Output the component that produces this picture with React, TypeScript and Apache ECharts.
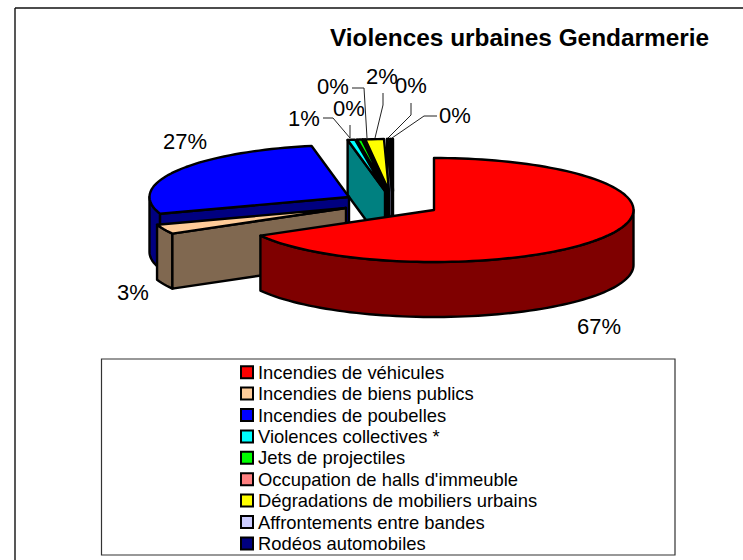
import React, { useEffect, useRef } from "react";
import * as echarts from "echarts";

const title = "Violences urbaines Gendarmerie";
const categories = [
  "Incendies de véhicules",
  "Incendies de biens publics",
  "Incendies de poubelles",
  "Violences collectives *",
  "Jets de projectiles",
  "Occupation de halls d'immeuble",
  "Dégradations de mobiliers urbains",
  "Affrontements entre bandes",
  "Rodéos automobiles",
];
const values = [66.8, 3.0, 27.2, 0.6, 0.4, 0.1, 1.5, 0.2, 0.2];
const topColors = ["#ff0000", "#ffcc99", "#0000ff", "#00ffff", "#00ff00", "#ff8080", "#ffff00", "#ccccff", "#000080"];
const sideColors = ["#7f0000", "#806850", "#000080", "#008080", "#008000", "#804040", "#808000", "#666680", "#000040"];

// Layout of the exploded 3D pie: where each slice's apex sits, in pixels
const apexX = [434, 346, 349, 385, 387, 388, 389, 392, 393];
const apexY = [210, 208, 197, 191, 191, 191, 191, 191, 191];
const drawZ = [20, 19, 18, 17, 16, 15, 14, 13, 12];
const RX = 199.5;
const RY = 52;
const DEPTH = 55;

const labelX = [599, 133, 185, 304, 333, 349, 382, 411, 455];
const labelY = [326, 292, 141, 118, 86.5, 108.5, 76, 85, 115];
const leaders: number[][][] = [
  [],
  [],
  [],
  [[323, 118], [333, 118], [350, 138]],
  [[352, 88], [364, 88], [367, 138]],
  [[350, 125], [350, 138]],
  [[383, 93], [383, 105], [375, 138]],
  [[411, 103], [411, 115], [388, 138]],
  [[437, 116], [424, 116], [392, 138]],
];

const total = values.reduce((a, b) => a + b, 0);
const bounds = values.reduce<number[]>((acc, v) => [...acc, acc[acc.length - 1] + (v / total) * 360], [0]);

function rim(i: number, from: number, to: number, dy = 0): number[][] {
  const pts: number[][] = [];
  const n = Math.max(2, Math.ceil(Math.abs(to - from) / 2));
  for (let k = 0; k <= n; k++) {
    const a = ((from + ((to - from) * k) / n) * Math.PI) / 180;
    pts.push([apexX[i] + RX * Math.sin(a), apexY[i] - RY * Math.cos(a) + dy]);
  }
  return pts;
}

function poly(points: number[][], fill: string) {
  return {
    type: "polygon",
    shape: { points },
    style: { fill, stroke: "#000", lineWidth: 2.4, lineJoin: "round" },
    silent: true,
  };
}

function renderSlice(i: number) {
  return () => {
    const a0 = bounds[i];
    const a1 = bounds[i + 1];
    const apex = [apexX[i], apexY[i]];
    const children: any[] = [];
    // outer wall: only the front half of the rim (90 to 270 degrees) faces the viewer
    const w0 = Math.max(a0, 90);
    const w1 = Math.min(a1, 270);
    if (w1 > w0) {
      children.push(poly([...rim(i, w0, w1), ...rim(i, w1, w0, DEPTH)], sideColors[i]));
    }
    // start cut face: faces the viewer for slices that begin in the left half
    if (a0 > 180) {
      const [outer] = rim(i, a0, a0);
      children.push(
        poly(
          [outer, apex, [apex[0], apex[1] + DEPTH], [outer[0], outer[1] + DEPTH]],
          sideColors[i]
        )
      );
    }
    children.push(poly([apex, ...rim(i, a0, a1)], topColors[i]));
    return { type: "group", children };
  };
}

export default function App() {
  const ref = useRef<HTMLDivElement>(null);
  useEffect(() => {
    const chart = echarts.init(ref.current!, null, { renderer: "svg" });
    const graphic: any[] = [
      { type: "line", shape: { x1: 15, y1: 8, x2: 743, y2: 8 }, style: { stroke: "#111", lineWidth: 1.4 }, z: 1 },
      { type: "line", shape: { x1: 15, y1: 8, x2: 15, y2: 560 }, style: { stroke: "#111", lineWidth: 1.4 }, z: 1 },
      {
        type: "rect",
        shape: { x: 101.5, y: 359, width: 573.5, height: 196 },
        style: { fill: "#fff", stroke: "#333", lineWidth: 1.2 },
        z: 1,
      },
    ];
    values.forEach((v, i) => {
      graphic.push({
        type: "text",
        x: labelX[i],
        y: labelY[i],
        z: 40,
        style: {
          text: `${Math.round(v)}%`,
          fill: "#000",
          font: "22px 'Liberation Sans', Arial, sans-serif",
          textAlign: "center",
          textVerticalAlign: "middle",
        },
      });
      if (leaders[i].length) {
        graphic.push({
          type: "polyline",
          z: 30,
          shape: { points: leaders[i] },
          style: { stroke: "#222", lineWidth: 1, fill: "none" },
        });
      }
    });
    chart.setOption({
      animation: false,
      backgroundColor: "#fff",
      title: {
        text: title,
        left: 330,
        top: 25,
        padding: 0,
        textStyle: {
          fontFamily: "'Liberation Sans', Arial, sans-serif",
          fontWeight: "bold",
          fontSize: 24.4,
          color: "#000",
        },
      },
      legend: {
        data: categories,
        orient: "vertical",
        left: 240,
        top: 363,
        itemWidth: 12,
        itemHeight: 12,
        itemGap: 3,
        padding: 0,
        selectedMode: false,
        icon: "rect",
        textStyle: {
          fontFamily: "'Liberation Sans', Arial, sans-serif",
          fontSize: 18.4,
          lineHeight: 18.4,
          color: "#000",
          padding: [0, 0, 0, 0],
        },
        formatter: (n: string) => n,
      },
      graphic,
      series: categories.map((name, i) => ({
        type: "custom",
        name,
        coordinateSystem: "none",
        z: drawZ[i],
        silent: true,
        itemStyle: { color: topColors[i], borderColor: "#000", borderWidth: 2 },
        data: [[values[i]]],
        renderItem: renderSlice(i),
      })),
    });
    return () => chart.dispose();
  }, []);
  return <div ref={ref} style={{ width: 743, height: 560, position: "absolute", left: 0, top: 0 }} />;
}
